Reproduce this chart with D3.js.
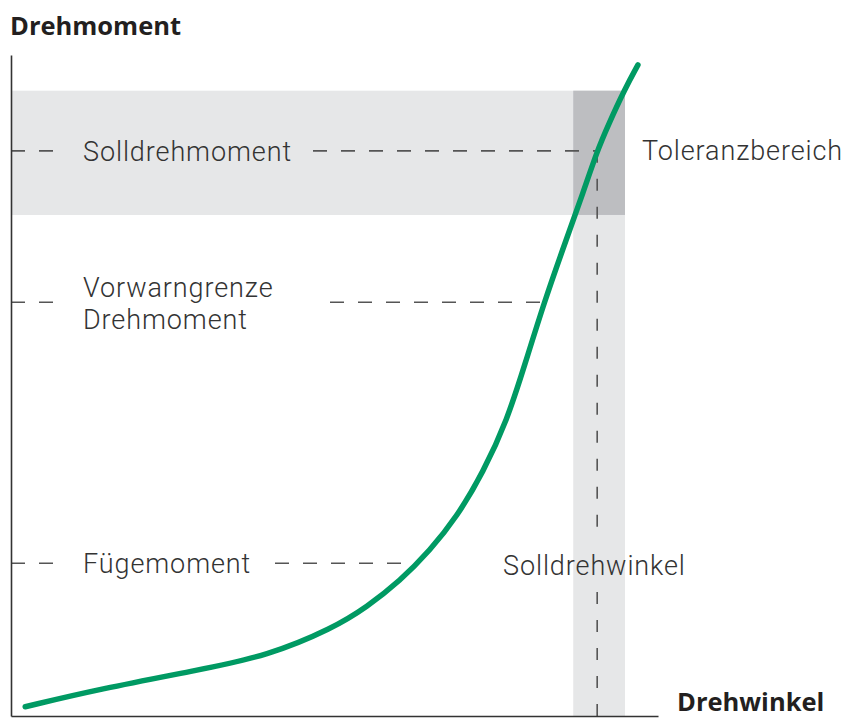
<!DOCTYPE html>
<html>
<head>
<meta charset="utf-8">
<script src="https://d3js.org/d3.v7.min.js"></script>
<style>
body { margin: 0; background: #fff; }
.label { font-family: Roboto, "Open Sans", sans-serif; font-weight: 300; font-size: 27px; letter-spacing: 0.9px; fill: #333; }
.title { font-family: "Open Sans", sans-serif; font-weight: 700; font-size: 25.5px; fill: #231f20; }
.ref { stroke: #555; stroke-width: 1.6px; stroke-dasharray: 14 14; fill: none; }
.axis path { stroke: #333; stroke-width: 1.6px; }
</style>
</head>
<body>
<script>
// Drehwinkel (x) und Drehmoment (y), jeweils in % der Achsenlaenge
var curveAngle  = [2.2, 13.8, 29.2, 39.6, 49.8, 55.0, 60.1, 64.8, 68.9, 73.0, 76.7, 79.4, 82.4, 85.9, 88.4, 90.6, 92.3, 94.9, 96.9];
var curveTorque = [1.4, 4.1, 7.0, 9.1, 13.3, 16.5, 20.4, 25.1, 30.1, 36.9, 44.8, 53.1, 62.6, 72.3, 79.1, 85.5, 89.4, 94.9, 98.5];

var refNames  = [["Solldrehmoment"], ["Vorwarngrenze", "Drehmoment"], ["Fügemoment"]];
var refTorque = [85.5, 62.6, 23.1];

var tolTorque = [75.8, 94.6];
var tolAngle  = [86.9, 94.9];
var targetAngle = 90.6;

var width = 848, height = 718;
var svg = d3.select("body").append("svg")
    .attr("width", width)
    .attr("height", height);

var x = d3.scaleLinear().domain([0, 100]).range([11, 658]);
var y = d3.scaleLinear().domain([0, 100]).range([716, 55]);

// Toleranzbereich: helle Baender, dunkle Ueberlappung
svg.append("rect")
    .attr("x", x(0)).attr("y", y(tolTorque[1]))
    .attr("width", x(tolAngle[1]) - x(0))
    .attr("height", y(tolTorque[0]) - y(tolTorque[1]))
    .attr("fill", "#e6e7e8");
svg.append("rect")
    .attr("x", x(tolAngle[0])).attr("y", y(tolTorque[0]))
    .attr("width", x(tolAngle[1]) - x(tolAngle[0]))
    .attr("height", y(0) - y(tolTorque[0]))
    .attr("fill", "#e6e7e8");
svg.append("rect")
    .attr("x", x(tolAngle[0])).attr("y", y(tolTorque[1]))
    .attr("width", x(tolAngle[1]) - x(tolAngle[0]))
    .attr("height", y(tolTorque[0]) - y(tolTorque[1]))
    .attr("fill", "#bdbec1");

// Schnittpunkt Kurve / Drehmoment-Niveau
function angleAt(t) {
  var i = d3.bisectLeft(curveTorque, t);
  if (i <= 0) return curveAngle[0];
  var t0 = curveTorque[i - 1], t1 = curveTorque[i];
  return curveAngle[i - 1] + (t - t0) / (t1 - t0) * (curveAngle[i] - curveAngle[i - 1]);
}

// Beschriftung und gestrichelte Linien
var labelX = 83;
var lineGapStart = 55;
var lineGapEnd = [313, 330, 275];

refTorque.forEach(function(t, i) {
  var yy = y(t);
  var lines = refNames[i];
  svg.append("line").attr("class", "ref")
      .attr("x1", x(0)).attr("x2", lineGapStart)
      .attr("y1", yy).attr("y2", yy);
  svg.append("line").attr("class", "ref")
      .attr("x1", lineGapEnd[i]).attr("x2", x(angleAt(t)))
      .attr("y1", yy).attr("y2", yy);
  var base = lines.length == 1 ? yy + 10 : yy - 5;
  lines.forEach(function(s, k) {
    svg.append("text").attr("class", "label")
        .attr("x", labelX).attr("y", base + k * 32).text(s);
  });
});

// Solldrehwinkel
var labelY = 575;
svg.append("line").attr("class", "ref")
    .attr("x1", x(targetAngle)).attr("x2", x(targetAngle))
    .attr("y1", y(refTorque[0])).attr("y2", labelY - 34)
    .style("stroke-dasharray", "12 16");
svg.append("line").attr("class", "ref")
    .attr("x1", x(targetAngle)).attr("x2", x(targetAngle))
    .attr("y1", y(0)).attr("y2", labelY + 12)
    .style("stroke-dasharray", "12 16");
svg.append("text").attr("class", "label")
    .attr("x", 503).attr("y", labelY)
    .text("Solldrehwinkel");

svg.append("text").attr("class", "label")
    .attr("x", 642).attr("y", y(refTorque[0]) + 9)
    .text("Toleranzbereich");

// Achsen
svg.append("g").attr("class", "axis")
    .attr("transform", "translate(" + x(0) + ",0)")
    .call(d3.axisLeft(y).ticks(0).tickSizeOuter(0));
svg.append("g").attr("class", "axis")
    .attr("transform", "translate(0," + y(0) + ")")
    .call(d3.axisBottom(x).ticks(0).tickSizeOuter(0));

svg.append("text").attr("class", "title")
    .attr("x", 10).attr("y", 35).text("Drehmoment");
svg.append("text").attr("class", "title")
    .attr("x", 677).attr("y", 711).text("Drehwinkel");

// Kennlinie
var line = d3.line()
    .x(function(d, i) { return x(curveAngle[i]); })
    .y(function(d) { return y(d); })
    .curve(d3.curveBasis);

svg.append("path")
    .datum(curveTorque)
    .attr("d", line)
    .attr("fill", "none")
    .attr("stroke", "#009a63")
    .attr("stroke-width", 5.5)
    .attr("stroke-linecap", "round");
</script>
</body>
</html>
